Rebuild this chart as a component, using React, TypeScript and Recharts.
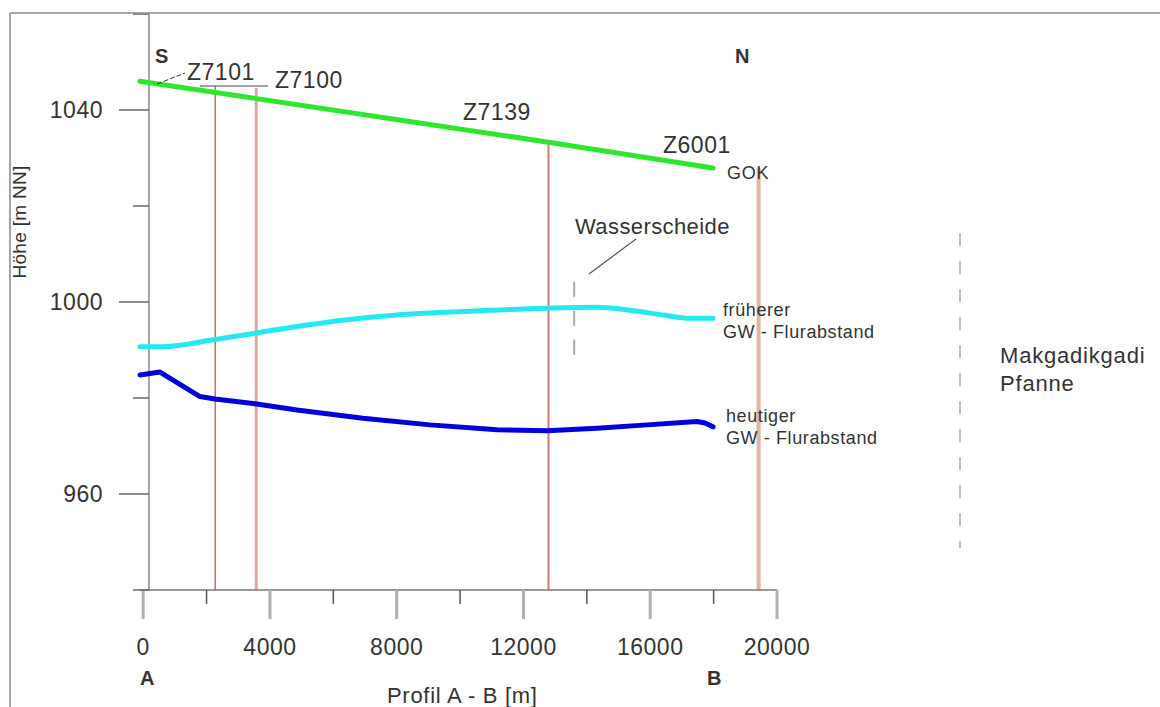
import React from "react";
import {
  ComposedChart,
  Line,
  XAxis,
  YAxis,
  ReferenceLine,
} from "recharts";

// profile distance ticks [m] and height ticks [m NN]
const xTicks = [0, 2000, 4000, 6000, 8000, 10000, 12000, 14000, 16000, 18000, 20000];
const xMajor = [0, 4000, 8000, 12000, 16000, 20000];
const yTicks = [940, 960, 980, 1000, 1020, 1040, 1060];
const yMajor = [960, 1000, 1040];

// GOK (ground surface)
const gokX = [-100, 12789, 17980];
const gokY = [1046.0, 1033.3, 1027.9];

// früherer GW-Flurabstand
const formerX = [-100, 625, 2266, 3528, 4853, 6431, 8009, 10091, 12742, 14320, 15361, 16402, 17254, 17980];
const formerY = [990.7, 990.7, 992.2, 993.5, 994.9, 996.3, 997.3, 998.0, 998.7, 998.9, 998.3, 997.3, 996.6, 996.6];

// heutiger GW-Flurabstand
const todayX = [-100, 530, 1792, 2266, 3528, 4853, 6936, 9050, 11164, 12742, 14320, 15898, 17475, 17727, 17980];
const todayY = [984.8, 985.4, 980.3, 979.8, 978.8, 977.5, 975.8, 974.4, 973.4, 973.2, 973.7, 974.4, 975.1, 974.8, 974.0];

// boreholes
const boreNames = ["Z7101", "Z7100", "Z7139", "Z6001"];
const boreX = [2274, 3568, 12789, 19420];
const boreTop = [1045.0, 1044.6, 1033.5, 1027.9];
const boreColors = ["#d46a6a", "#e3a6a6", "#d47676", "#e2b4a2"];
const boreWidths = [1.5, 3, 2, 4];

// Wasserscheide marker
const watershedX = 13600;
const watershedRange = [989.0, 1006.3];

const yAxisAt = 183; // y-axis line position on the profile axis

const toRows = (xs: number[], ys: number[]) => xs.map((x, i) => ({ x, y: ys[i] }));

const FONT = "'Liberation Sans', Arial, sans-serif";
const TXT = "#333";

const XTick = ({ x, y, payload }: any) => {
  const major = xMajor.includes(payload.value);
  return (
    <g>
      <line
        x1={x}
        x2={x}
        y1={y}
        y2={y + (major ? 29 : 14)}
        stroke={major ? "#b0b0b0" : "#555"}
        strokeWidth={major ? 3 : 1.5}
      />
      {major && (
        <text x={x} y={y + 65} textAnchor="middle" fontFamily={FONT} fontSize={23} letterSpacing={0.5} fill={TXT}>
          {payload.value}
        </text>
      )}
    </g>
  );
};

const YTick = ({ x, y, payload }: any) => {
  const major = yMajor.includes(payload.value);
  const ax = x + 9;
  return (
    <g>
      <line x1={ax - (major ? 30 : 16)} x2={ax} y1={y} y2={y} stroke="#666" strokeWidth={1.5} />
      {major && (
        <text x={ax - 46} y={y + 8} textAnchor="end" fontFamily={FONT} fontSize={23} letterSpacing={0.5} fill={TXT}>
          {payload.value}
        </text>
      )}
    </g>
  );
};

const T = ({ x, y, s = 21, b = false, ls = 1, children }: any) => (
  <text x={x} y={y} fontFamily={FONT} fontSize={s} fontWeight={b ? "bold" : "normal"} letterSpacing={ls} fill={TXT}>
    {children}
  </text>
);

export default function App() {
  return (
    <div style={{ position: "absolute", left: 0, top: 0, width: 1160, height: 707, background: "#fff" }}>
      <ComposedChart width={1160} height={707} margin={{ top: 14, right: 383, bottom: 57, left: 0 }}>
        <XAxis
          type="number"
          dataKey="x"
          domain={[-100, 20000]}
          ticks={xTicks}
          interval={0}
          tickSize={0}
          tickMargin={0}
          tick={<XTick />}
          axisLine={{ stroke: "#777", strokeWidth: 1.5 }}
          height={60}
        />
        <YAxis
          type="number"
          domain={[940, 1060]}
          ticks={yTicks}
          interval={0}
          tickSize={0}
          tickMargin={0}
          tick={<YTick />}
          axisLine={false}
          width={140}
        />
        <ReferenceLine x={yAxisAt} stroke="#888" strokeWidth={1.5} />
        {boreX.map((bx, i) => (
          <ReferenceLine
            key={boreNames[i]}
            segment={[
              { x: bx, y: boreTop[i] },
              { x: bx, y: 940 },
            ]}
            stroke={boreColors[i]}
            strokeWidth={boreWidths[i]}
          />
        ))}
        <ReferenceLine
          segment={[
            { x: watershedX, y: watershedRange[0] },
            { x: watershedX, y: watershedRange[1] },
          ]}
          stroke="#aaa"
          strokeWidth={2}
          strokeDasharray="15 14"
        />
        <Line
          data={toRows(gokX, gokY)}
          dataKey="y"
          type="linear"
          stroke="#2ee62e"
          strokeWidth={5}
          strokeLinecap="round"
          dot={false}
          isAnimationActive={false}
        />
        <Line
          data={toRows(formerX, formerY)}
          dataKey="y"
          type="monotone"
          stroke="#22eaf0"
          strokeWidth={5}
          strokeLinecap="round"
          dot={false}
          isAnimationActive={false}
        />
        <Line
          data={toRows(todayX, todayY)}
          dataKey="y"
          type="linear"
          stroke="#0000dc"
          strokeWidth={5}
          strokeLinecap="round"
          strokeLinejoin="round"
          dot={false}
          isAnimationActive={false}
        />
      </ComposedChart>

      <svg width={1160} height={707} style={{ position: "absolute", left: 0, top: 0, pointerEvents: "none" }}>
        {/* frame */}
        <line x1={10} y1={13} x2={1160} y2={13} stroke="#888" strokeWidth={1.5} />
        <line x1={10} y1={13} x2={10} y2={707} stroke="#888" strokeWidth={1.5} />

        {/* leaders */}
        <line x1={157} y1={84} x2={185} y2={73} stroke="#333" strokeWidth={1} strokeDasharray="5 2" />
        <line x1={200} y1={86} x2={268} y2={86} stroke="#444" strokeWidth={1} />
        <line x1={589} y1={274} x2={636} y2={239} stroke="#555" strokeWidth={1.2} />
        <line x1={960} y1={233} x2={960} y2={548} stroke="#aaa" strokeWidth={1.5} strokeDasharray="13 15" />

        <T x={155} y={63} s={20} b ls={0}>S</T>
        <T x={735} y={63} s={20} b ls={0}>N</T>
        <T x={187} y={80} s={23} ls={0.5}>{boreNames[0]}</T>
        <T x={275} y={88} s={23} ls={0.5}>{boreNames[1]}</T>
        <T x={463} y={120} s={23} ls={0.5}>{boreNames[2]}</T>
        <T x={663} y={153} s={23} ls={0.5}>{boreNames[3]}</T>
        <T x={727} y={179} s={18} ls={0.8}>GOK</T>
        <T x={575} y={234} s={22} ls={0.4}>Wasserscheide</T>
        <T x={723} y={316} s={18} ls={0.6}>früherer</T>
        <T x={723} y={338} s={18} ls={0.6}>GW - Flurabstand</T>
        <T x={726} y={422} s={18} ls={0.6}>heutiger</T>
        <T x={726} y={444} s={18} ls={0.6}>GW - Flurabstand</T>
        <T x={1000} y={363} s={22} ls={0.8}>Makgadikgadi</T>
        <T x={1000} y={391} s={22} ls={0.8}>Pfanne</T>
        <T x={140} y={685} s={20} b ls={0}>A</T>
        <T x={707} y={685} s={20} b ls={0}>B</T>
        <T x={387} y={703} s={22} ls={0.7}>Profil A - B [m]</T>
        <text
          x={26}
          y={222}
          transform="rotate(-90 26 222)"
          textAnchor="middle"
          fontFamily={FONT}
          fontSize={19}
          letterSpacing={0.3}
          fill={TXT}
        >
          Höhe [m NN]
        </text>
      </svg>
    </div>
  );
}
